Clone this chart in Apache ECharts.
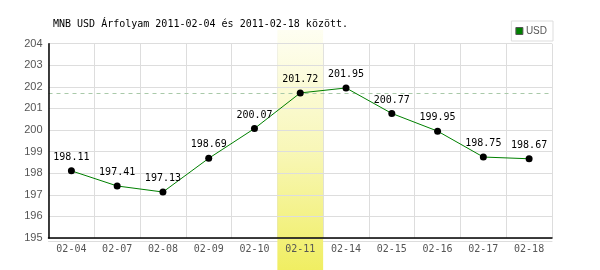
<!DOCTYPE html>
<html>
<head>
<meta charset="utf-8">
<script src="https://cdn.jsdelivr.net/npm/echarts@6/dist/echarts.min.js"></script>
<style>html,body{margin:0;padding:0;background:#fff}#c{width:600px;height:270px}</style>
</head>
<body>
<div id="c"></div>
<script>
var titleText = 'MNB USD Árfolyam 2011-02-04 és 2011-02-18 között.';
var seriesName = 'USD';
var categories = ['02-04','02-07','02-08','02-09','02-10','02-11','02-14','02-15','02-16','02-17','02-18'];
var values = [198.11,197.41,197.13,198.69,200.07,201.72,201.95,200.77,199.95,198.75,198.67];
var highlightDay = '02-11';
var yTicks = {min:195, max:204, interval:1};

var hiIdx = categories.indexOf(highlightDay);
var bandData = categories.map(function(c, i){ return i === hiIdx ? 1 : null; });
var mono = '"DejaVu Sans Mono", "Liberation Mono", monospace';
var sans = '"Liberation Sans", Arial, sans-serif';

var chart = echarts.init(document.getElementById('c'), null, {renderer:'canvas'});
chart.setOption({
  animation:false,
  backgroundColor:'#fff',
  title:{text:titleText, left:53, top:19, padding:0,
    textStyle:{fontFamily:mono, fontSize:10, fontWeight:'normal', color:'#000'}},
  legend:{
    right:47, top:21, padding:[5,6,5,4], borderColor:'#ddd', borderWidth:1,
    itemWidth:7, itemHeight:7, itemGap:4,
    data:[{name:seriesName, icon:'rect', itemStyle:{color:'#008000', borderColor:'#555', borderWidth:1}}],
    textStyle:{fontFamily:sans, fontSize:10, color:'#555', padding:[0,0,0,-2]}
  },
  grid:[
    {left:48.5, right:48, top:43.7, bottom:32},
    {left:48.5, right:48, top:30, bottom:0}
  ],
  xAxis:[
    {type:'category', data:categories, gridIndex:0, boundaryGap:true,
      axisLine:{show:false}, axisTick:{show:false}, axisLabel:{show:false},
      splitLine:{show:true, lineStyle:{color:'#ddd', width:1}}, z:0},
    {type:'category', data:categories, gridIndex:0, boundaryGap:true, position:'bottom',
      axisLine:{show:true, lineStyle:{color:'#000', width:1.5}}, axisTick:{show:false},
      axisLabel:{show:true, fontFamily:mono, fontSize:10, color:'#555', margin:6},
      splitLine:{show:false}, z:5},
    {type:'category', data:categories, gridIndex:0, boundaryGap:true, position:'bottom', offset:3,
      axisLine:{show:true, lineStyle:{color:'#ddd', width:1}}, axisTick:{show:false},
      axisLabel:{show:false}, splitLine:{show:false}, z:0},
    {type:'category', data:categories, gridIndex:1, boundaryGap:true, show:false}
  ],
  yAxis:[
    {type:'value', gridIndex:0, min:yTicks.min, max:yTicks.max, interval:yTicks.interval,
      axisLine:{show:true, lineStyle:{color:'#000', width:1.5}}, axisTick:{show:false},
      axisLabel:{fontFamily:sans, fontSize:11, color:'#555', margin:6},
      splitLine:{show:true, lineStyle:{color:'#ddd', width:1}}, z:5},
    {type:'value', gridIndex:1, min:0, max:1, show:false}
  ],
  series:[
    {type:'bar', name:'band', xAxisIndex:3, yAxisIndex:1, data:bandData, barWidth:'100%',
      silent:true, z:1, legendHoverLink:false,
      itemStyle:{color:new echarts.graphic.LinearGradient(0,0,0,1,[
        {offset:0, color:'#fefef2'}, {offset:0.5, color:'#f8f7b8'}, {offset:1, color:'#f0ee62'}])}},
    {type:'line', name:seriesName, xAxisIndex:0, yAxisIndex:0, data:values, z:6,
      lineStyle:{color:'#008000', width:1}, itemStyle:{color:'#000'},
      symbol:'circle', symbolSize:7, showAllSymbol:true,
      label:{show:true, position:'top', distance:5, fontFamily:mono, fontSize:10, color:'#000',
        formatter:function(p){ return p.value.toFixed(2); }},
      markLine:{silent:true, symbol:'none', label:{show:false},
        lineStyle:{color:'#a9c9a9', type:[4,4], width:1},
        data:[{yAxis:values[hiIdx]}]}
    }
  ]
});
</script>
</body>
</html>
